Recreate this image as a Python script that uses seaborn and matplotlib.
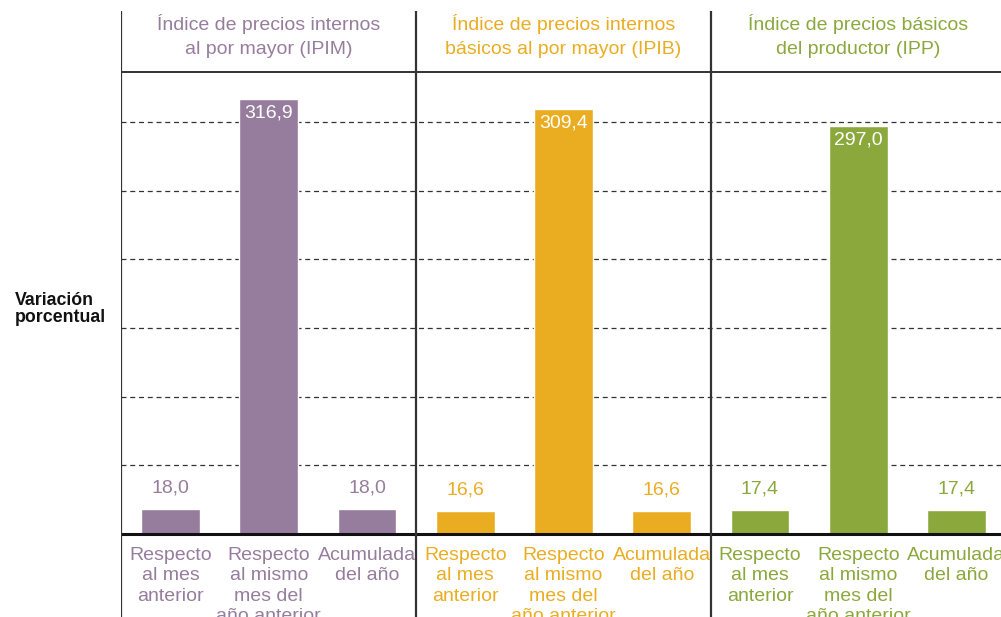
import pandas as pd
import seaborn as sns
import matplotlib.pyplot as plt

sns.set_style("white")
plt.rcParams["font.family"] = ["Liberation Sans", "DejaVu Sans"]

indices = ["IPIM", "IPIB", "IPP"]
headers = ["Índice de precios internos\nal por mayor (IPIM)",
           "Índice de precios internos\nbásicos al por mayor (IPIB)",
           "Índice de precios básicos\ndel productor (IPP)"]
measures = ["Respecto\nal mes\nanterior",
            "Respecto\nal mismo\nmes del\naño anterior",
            "Acumulada\ndel año"]
ipim = [18.0, 316.9, 18.0]
ipib = [16.6, 309.4, 16.6]
ipp = [17.4, 297.0, 17.4]
colors = ["#977d9d", "#eaad22", "#8ba83d"]

rows = []
for idx, vals in zip(indices, [ipim, ipib, ipp]):
    for m, v in zip(measures, vals):
        rows.append({"key": idx + "|" + m, "indice": idx, "medida": m, "valor": v})
df = pd.DataFrame(rows)

fig = plt.figure(figsize=(10.01, 6.17), dpi=100)
# axes spans full height; y=0 sits at the baseline
ax = fig.add_axes([121.4 / 1001, 0, 884.2 / 1001, 606 / 617])
sns.barplot(data=df, x="key", y="valor", hue="indice", palette=colors,
            width=0.6, dodge=False, legend=False, saturation=1, ax=ax)

px = 1.373  # pixels per unit
ax.set_ylim(-83 / px, 523 / px)
ax.set_xlim(-0.5, 8.5)
for s in ax.spines.values():
    s.set_visible(False)
ax.set_xticks([])
ax.set_yticks([])
ax.set_xlabel("")
ax.set_ylabel("")

header_y = 462 / px
ax.hlines([50, 100, 150, 200, 250, 300], -0.5, 8.5, colors="#333333",
          linestyles=(0, (4, 3)), linewidth=0.9, zorder=0)
ax.axhline(header_y, color="#222222", linewidth=1.3)
ax.axhline(0, color="#111111", linewidth=2.2, zorder=3)
for xv in [-0.5, 2.5, 5.5]:
    ax.axvline(xv, color="#333333", linewidth=1.6, zorder=3)

for i, (h, c) in enumerate(zip(headers, colors)):
    ax.text(3 * i + 1, 498 / px, h, ha="center", va="center", color=c,
            fontsize=14, linespacing=1.55)

for i, r in df.iterrows():
    c = colors[indices.index(r["indice"])]
    lab = f"{r['valor']:.1f}".replace(".", ",")
    if r["valor"] > 100:
        ax.annotate(lab, (i, r["valor"]), xytext=(0, -4), textcoords="offset points",
                    ha="center", va="top", color="white", fontsize=14)
    else:
        ax.annotate(lab, (i, r["valor"]), xytext=(0, 9), textcoords="offset points",
                    ha="center", va="bottom", color=c, fontsize=14)
    # bottom line is cut by the figure edge, as in the source
    ax.text(i, -13 / px, r["medida"], ha="center", va="top", color=c,
            fontsize=14, linespacing=1.26)

fig.text(15 / 1001, 1 - 309 / 617, "Variación\nporcentual", ha="left", va="center",
         fontsize=12.8, fontweight="bold", color="#111111", linespacing=1.02)

fig.savefig("out.png", dpi=100)
